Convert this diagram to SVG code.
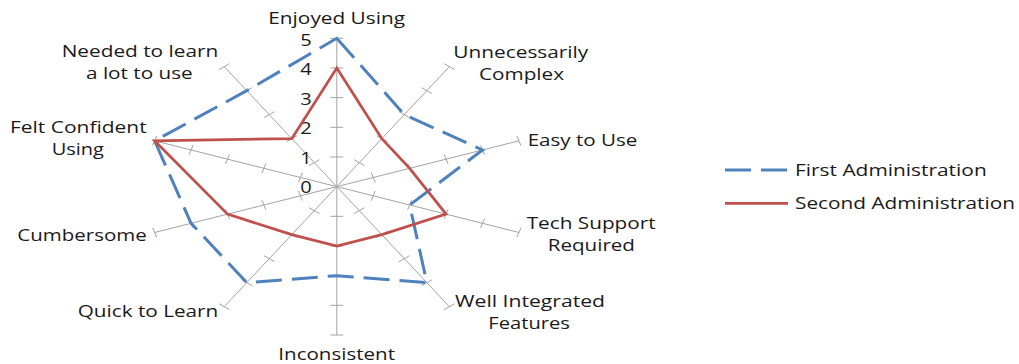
<svg xmlns="http://www.w3.org/2000/svg" width="1019" height="364" viewBox="0 0 1019 364">
<style>
text{font-family:"Open Sans","Liberation Sans",sans-serif;font-size:15.5px;fill:#1a1a1a}
.ax{stroke:#a3a3a3;stroke-width:1;fill:none}
.s1{stroke:#4f81bd;stroke-width:3;fill:none;stroke-dasharray:26 10;stroke-linejoin:miter}
.s2{stroke:#c0504d;stroke-width:2.75;fill:none;stroke-linejoin:miter}
</style>
<rect width="1019" height="364" fill="#ffffff"/>
<g id="axes" class="ax">
<path d="M336.8 186.65L336.8 38.3M336.8 186.65L449.35 66.65M336.8 186.65L518.95 140.81M336.8 186.65L518.95 232.49M336.8 186.65L449.35 306.65M336.8 186.65L336.8 335M336.8 186.65L224.25 306.65M336.8 186.65L154.65 232.49M336.8 186.65L154.65 140.81M336.8 186.65L224.25 66.65"/>
<path d="M330.35 156.98H343.25M330.35 127.31H343.25M330.35 97.64H343.25M330.35 67.97H343.25M330.35 38.3H343.25"/>
<path d="M354.09 159.71L364.53 165.59M376.6 135.71L387.04 141.59M399.11 111.71L409.55 117.59M421.62 87.71L432.06 93.59M444.13 63.71L454.57 69.59"/>
<path d="M371.24 172.72L375.22 182.24M407.67 163.55L411.65 173.07M444.1 154.39L448.08 163.91M480.53 145.22L484.51 154.74M516.96 136.05L520.94 145.57"/>
<path d="M375.22 191.06L371.24 200.58M411.65 200.23L407.67 209.75M448.08 209.39L444.1 218.91M484.51 218.56L480.53 228.08M520.94 227.73L516.96 237.25"/>
<path d="M364.53 207.71L354.09 213.59M387.04 231.71L376.6 237.59M409.55 255.71L399.11 261.59M432.06 279.71L421.62 285.59M454.57 303.71L444.13 309.59"/>
<path d="M330.35 216.32H343.25M330.35 245.99H343.25M330.35 275.66H343.25M330.35 305.33H343.25M330.35 335H343.25"/>
<path d="M309.07 207.71L319.51 213.59M286.56 231.71L297 237.59M264.05 255.71L274.49 261.59M241.54 279.71L251.98 285.59M219.03 303.71L229.47 309.59"/>
<path d="M298.38 191.06L302.36 200.58M261.95 200.23L265.93 209.75M225.52 209.39L229.5 218.91M189.09 218.56L193.07 228.08M152.66 227.73L156.64 237.25"/>
<path d="M302.36 172.72L298.38 182.24M265.93 163.55L261.95 173.07M229.5 154.39L225.52 163.91M193.07 145.22L189.09 154.74M156.64 136.05L152.66 145.57"/>
<path d="M319.51 159.71L309.07 165.59M297 135.71L286.56 141.59M274.49 111.71L264.05 117.59M251.98 87.71L241.54 93.59M229.47 63.71L219.03 69.59"/>
</g>
<g id="scale">
<text x="300.3" y="193.4" textLength="11.5" lengthAdjust="spacingAndGlyphs">0</text>
<text x="300.3" y="163.8" textLength="11.5" lengthAdjust="spacingAndGlyphs">1</text>
<text x="300.3" y="134.2" textLength="11.5" lengthAdjust="spacingAndGlyphs">2</text>
<text x="300.3" y="104.6" textLength="11.5" lengthAdjust="spacingAndGlyphs">3</text>
<text x="300.3" y="75.0" textLength="11.5" lengthAdjust="spacingAndGlyphs">4</text>
<text x="300.3" y="46.0" textLength="11.5" lengthAdjust="spacingAndGlyphs">5</text>
</g>
<g id="connectors">
<path id="first-administration" class="s1" d="M336.8 38.3L404.33 114.65L482.52 149.98L409.66 204.99L426.84 282.65L336.8 275.66L246.76 282.65L191.08 223.32L154.65 140.81L246.76 90.65Z"/>
<path id="second-administration" class="s2" d="M336.8 67.97L381.82 138.65L409.66 168.31L446.09 214.15L381.82 234.65L336.8 245.99L291.78 234.65L227.51 214.15L154.65 140.81L291.78 138.65Z"/>
</g>
<g id="label-enjoyed-using"><text x="268.3" y="24.3" textLength="136.7" lengthAdjust="spacingAndGlyphs">Enjoyed Using</text></g>
<g id="label-unnecessarily-complex"><text x="453.3" y="57.5" textLength="135" lengthAdjust="spacingAndGlyphs">Unnecessarily</text><text x="479" y="79.5" textLength="85" lengthAdjust="spacingAndGlyphs">Complex</text></g>
<g id="label-easy-to-use"><text x="527.7" y="145.5" textLength="109.6" lengthAdjust="spacingAndGlyphs">Easy to Use</text></g>
<g id="label-tech-support-required"><text x="526.7" y="229" textLength="129" lengthAdjust="spacingAndGlyphs">Tech Support</text><text x="547.7" y="251" textLength="87.3" lengthAdjust="spacingAndGlyphs">Required</text></g>
<g id="label-well-integrated-features"><text x="455" y="306.7" textLength="150" lengthAdjust="spacingAndGlyphs">Well Integrated</text><text x="488.3" y="328.7" textLength="81.7" lengthAdjust="spacingAndGlyphs">Features</text></g>
<g id="label-inconsistent"><text x="278.3" y="359.5" textLength="116.7" lengthAdjust="spacingAndGlyphs">Inconsistent</text></g>
<g id="label-quick-to-learn"><text x="77.7" y="317" textLength="140.6" lengthAdjust="spacingAndGlyphs">Quick to Learn</text></g>
<g id="label-cumbersome"><text x="17.3" y="240.5" textLength="129.4" lengthAdjust="spacingAndGlyphs">Cumbersome</text></g>
<g id="label-felt-confident-using"><text x="10" y="133.2" textLength="136.7" lengthAdjust="spacingAndGlyphs">Felt Confident</text><text x="51.7" y="155.2" textLength="52.3" lengthAdjust="spacingAndGlyphs">Using</text></g>
<g id="label-needed-to-learn"><text x="61.7" y="56.7" textLength="156.6" lengthAdjust="spacingAndGlyphs">Needed to learn</text><text x="86" y="78.5" textLength="106.7" lengthAdjust="spacingAndGlyphs">a lot to use</text></g>
<g id="legend">
<g id="legend-first"><path class="s1" d="M725 170H788" stroke-dasharray="27 11"/><text x="795" y="176" textLength="191.7" lengthAdjust="spacingAndGlyphs">First Administration</text></g>
<g id="legend-second"><path class="s2" d="M725 203.3H788"/><text x="795" y="209.3" textLength="220" lengthAdjust="spacingAndGlyphs">Second Administration</text></g>
</g>
</svg>
